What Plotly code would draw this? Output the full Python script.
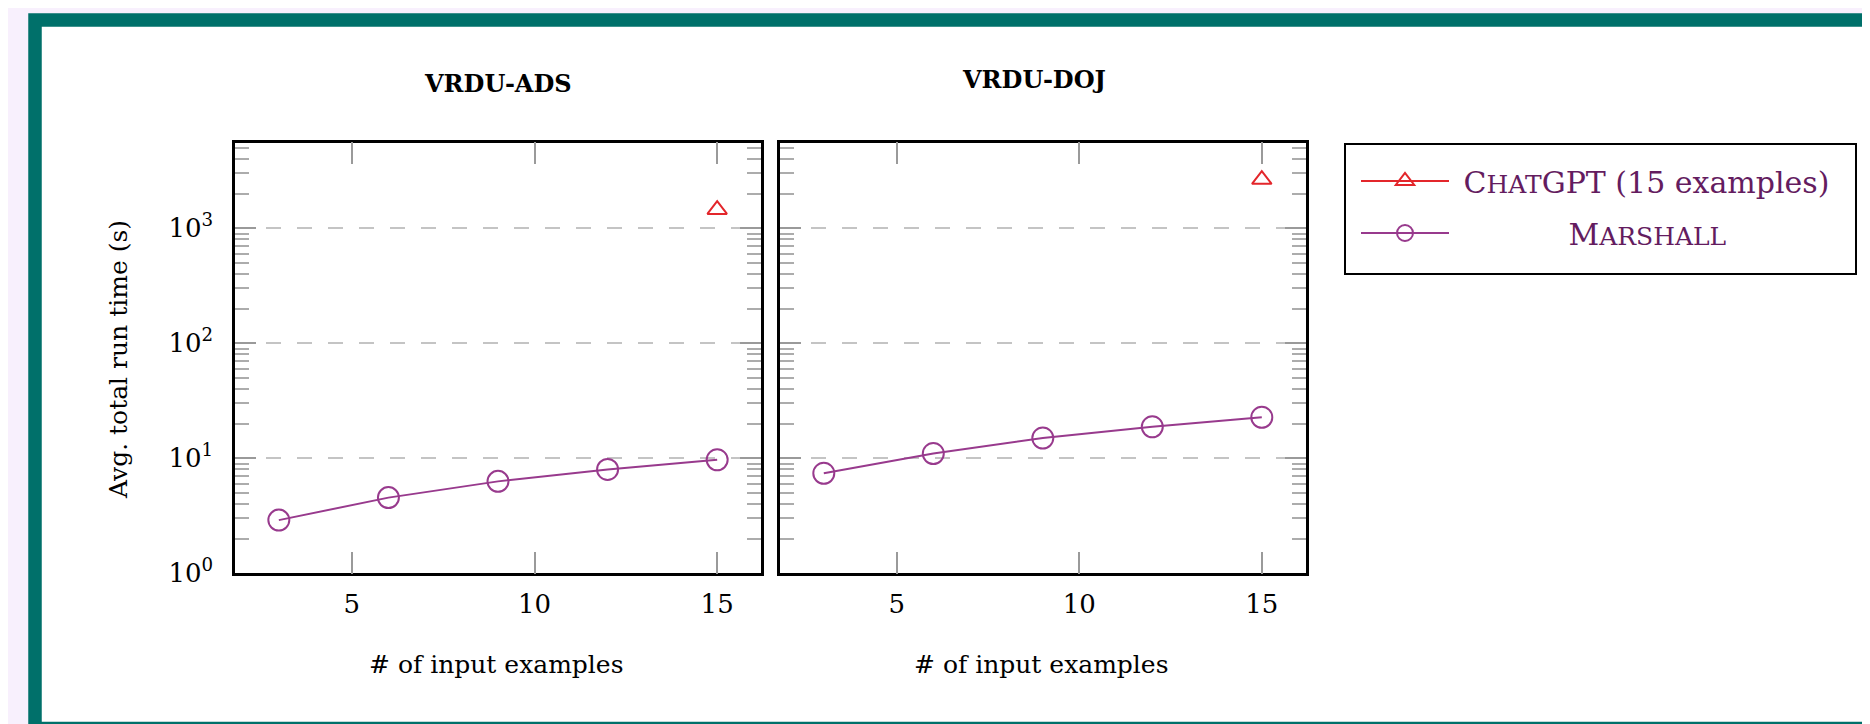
import plotly.graph_objects as go

# data
n_examples = [3, 6, 9, 12, 15]
ads_marshall = [2.9, 4.55, 6.3, 8.0, 9.7]
doj_marshall = [7.4, 11.0, 15.0, 18.8, 22.7]
chatgpt_x = [15]
ads_chatgpt = [1450]
doj_chatgpt = [2650]
panel_titles = ["VRDU-ADS", "VRDU-DOJ"]
x_ticks = [5, 10, 15]
y_ticks = [1, 10, 100, 1000]
y_ticktext = ["10<sup>0</sup>", "10<sup>1</sup>", "10<sup>2</sup>", "10<sup>3</sup>"]

W, H = 1870, 724
OFF = 8  # page body margin
RED = "#e3262b"
PURPLE = "#983a8d"
LEGEND_TEXT = "#641c5f"
FONT = "DejaVu Serif"


def fx(px):
    return (px - OFF) / W


def fy(py):
    return 1 - (py - OFF) / H


minor_vals = [m * 10 ** d for d in range(4) for m in range(2, 10)]

fig = go.Figure()

chatgpt_name = "\u00a0C<span style='font-size:25px'>HAT</span>GPT (15 examples)"
marshall_name = "\u00a0" * 12 + "M<span style='font-size:25px'>ARSHALL</span>"

for i, (cg, ms) in enumerate([(ads_chatgpt, ads_marshall), (doj_chatgpt, doj_marshall)]):
    xa = "x" if i == 0 else "x2"
    ya = "y" if i == 0 else "y2"
    fig.add_trace(go.Scatter(
        x=chatgpt_x, y=cg, xaxis=xa, yaxis=ya,
        mode="lines+markers", name=chatgpt_name, legendgroup="chatgpt",
        showlegend=(i == 0),
        line=dict(color=RED, width=2),
        marker=dict(symbol="triangle-up-open", size=17, color=RED, line=dict(width=2)),
    ))
    fig.add_trace(go.Scatter(
        x=n_examples, y=ms, xaxis=xa, yaxis=ya,
        mode="lines+markers", name=marshall_name, legendgroup="marshall",
        showlegend=(i == 0),
        line=dict(color=PURPLE, width=2),
        marker=dict(symbol="circle-open", size=21, color=PURPLE, line=dict(width=2)),
    ))

common_x = dict(
    range=[1.8, 16.2], tickmode="array", tickvals=x_ticks,
    showline=True, linecolor="black", linewidth=2.5, mirror="ticks",
    ticks="inside", ticklen=22, tickwidth=1.5, tickcolor="#9a9a9a",
    showgrid=False, zeroline=False, tickfont=dict(size=26),
    ticklabelstandoff=6, automargin=False,
)
common_y = dict(
    type="log", range=[0, 3.744], tickmode="array", tickvals=y_ticks, ticktext=y_ticktext,
    showline=True, linecolor="black", linewidth=2.5, mirror="ticks",
    ticks="inside", ticklen=21, tickwidth=1.5, tickcolor="#9a9a9a",
    showgrid=True, gridcolor="#c4c4c4", gridwidth=2, griddash="15px,16px",
    minor=dict(ticks="inside", ticklen=14, tickwidth=1.5, tickcolor="#acacac",
               tickmode="array", tickvals=minor_vals, showgrid=False),
    zeroline=False, tickfont=dict(size=26), ticklabelstandoff=14, automargin=False,
)

y_domain = [fy(573.3), fy(142.7)]
fig.update_layout(
    xaxis=dict(domain=[fx(235), fx(761)], anchor="y", **common_x),
    xaxis2=dict(domain=[fx(780), fx(1305.6)], anchor="y2", **common_x),
    yaxis=dict(domain=y_domain, anchor="x", **common_y),
    yaxis2=dict(domain=y_domain, anchor="x2", showticklabels=False, **common_y),
)

# panel titles and axis titles
title_pos = [(497.5, 84), (1034, 79)]
for t, (cx, cy) in zip(panel_titles, title_pos):
    fig.add_annotation(text="<b>" + t + "</b>", x=fx(cx), y=fy(cy), xref="paper", yref="paper",
                       xanchor="center", yanchor="middle",
                       showarrow=False, font=dict(size=24, color="black"))
for cx in [496, 1041]:
    fig.add_annotation(text="# of input examples", x=fx(cx), y=fy(664), xref="paper", yref="paper",
                       xanchor="center", yanchor="middle",
                       showarrow=False, font=dict(size=25, color="black"))
fig.add_annotation(text="Avg. total run time (s)", x=fx(118), y=fy(360), xref="paper", yref="paper",
                   xanchor="center", yanchor="middle",
                   textangle=-90, showarrow=False, font=dict(size=25, color="black"))

# teal frame around the figure
fig.add_shape(type="rect", xref="paper", yref="paper",
              x0=fx(35), x1=fx(1900), y0=fy(728.5), y1=fy(20),
              line=dict(color="#00706a", width=13.5), fillcolor="white", layer="below")
# legend box
fig.add_shape(type="rect", xref="paper", yref="paper",
              x0=fx(1345), x1=fx(1856), y0=fy(274), y1=fy(144),
              line=dict(color="black", width=2), fillcolor="white", layer="below")

fig.update_layout(
    width=W, height=H, template="none",
    margin=dict(l=0, r=0, t=0, b=0),
    paper_bgcolor="#f8f0fd", plot_bgcolor="white",
    font=dict(family=FONT, size=25, color="black"),
    showlegend=True,
    legend=dict(x=fx(1356), y=fy(155), xanchor="left", yanchor="top",
                bgcolor="rgba(0,0,0,0)", borderwidth=0,
                font=dict(size=30, color=LEGEND_TEXT), itemwidth=88,
                traceorder="grouped", tracegroupgap=10),
)

fig.write_html("out.html")
